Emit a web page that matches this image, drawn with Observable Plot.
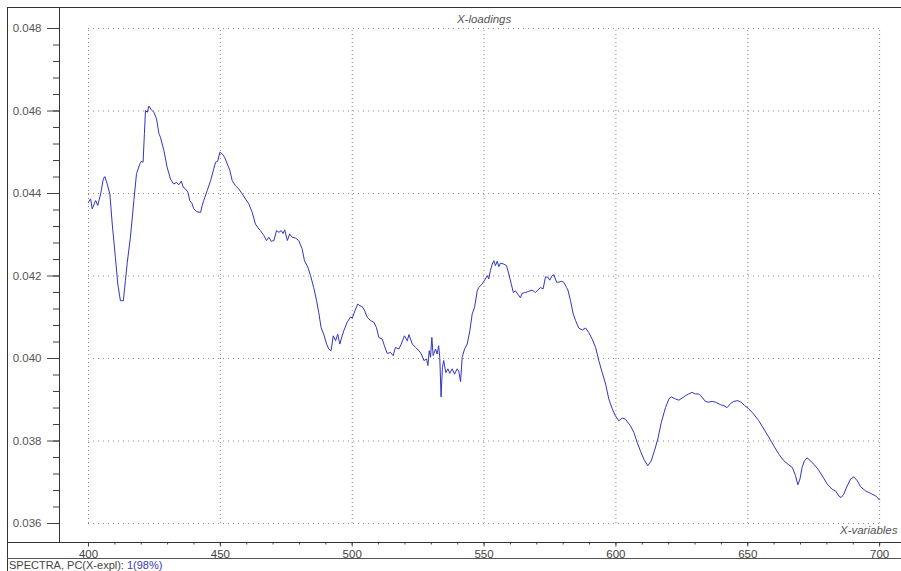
<!DOCTYPE html>
<html>
<head>
<meta charset="utf-8">
<script src="https://cdn.jsdelivr.net/npm/d3@7"></script>
<script src="https://cdn.jsdelivr.net/npm/@observablehq/plot@0.6"></script>
<style>
  html, body { margin: 0; padding: 0; background: #fff; }
  #wrap { position: relative; width: 901px; height: 571px; overflow: hidden; font-family: "Liberation Sans", Arial, sans-serif; }
  #wrap svg { position: absolute; left: 0; top: 0; }
  .ln { position: absolute; background: #333; }
  #caption { position: absolute; left: 9px; top: 559px; font-size: 11px; color: #444; white-space: nowrap; line-height: 13px; }
  #caption span { color: #3a3ac0; }
</style>
</head>
<body>
<div id="wrap">
  <div class="ln" style="left:7px;top:7px;width:1px;height:564px;"></div>
  <div class="ln" style="left:7px;top:7px;width:894px;height:1px;"></div>
  <div class="ln" style="left:7px;top:542px;width:53px;height:1px;"></div>
  <div class="ln" style="left:7px;top:558px;width:894px;height:1px;background:#555;"></div>
  <div id="caption">SPECTRA, PC(X-expl): <span>1(98%)</span></div>
</div>
<script>
// X variables (wavelength) and PC1 loadings
const wavelengths = [
  400.0,400.8,401.4,402.7,403.5,404.6,405.6,406.2,407.1,408.1,409.0,410.2,411.1,412.1,413.2,414.0,414.7,415.9,417.2,418.2,
  419.5,420.0,420.7,421.2,421.6,422.3,422.9,423.8,424.8,425.8,426.7,427.3,428.6,429.8,431.1,432.3,433.4,434.2,435.2,435.9,
  436.8,437.7,438.4,439.3,439.9,441.0,442.5,443.1,443.7,445.0,446.3,447.5,448.2,449.0,449.8,450.7,451.6,452.6,453.6,454.5,
  455.7,457.0,458.3,459.5,460.8,462.1,463.3,464.6,465.2,466.5,467.5,468.4,469.3,470.3,471.3,472.2,473.1,473.8,474.4,475.4,
  476.3,477.2,478.5,479.7,481.0,481.9,483.2,484.2,485.4,486.5,487.3,488.2,489.2,490.3,491.1,492.0,492.8,493.7,494.5,495.3,
  496.2,496.8,498.1,499.4,500.0,501.3,502.1,502.9,503.8,504.7,505.7,506.9,508.2,509.2,510.1,511.4,512.2,513.3,514.5,515.5,
  516.4,517.7,518.6,519.8,520.9,521.5,522.8,524.0,525.3,526.2,527.2,528.2,528.7,529.2,529.7,530.2,530.7,531.6,532.2,532.8,
  533.2,533.7,534.2,534.7,535.5,536.3,537.0,537.9,538.8,539.8,540.4,541.1,541.7,542.6,543.6,544.6,545.5,546.4,547.4,548.0,
  549.3,550.5,551.2,551.8,552.4,553.1,553.7,554.3,555.0,555.6,556.2,557.5,558.5,559.4,560.3,561.1,561.9,562.8,563.8,564.4,
  565.7,567.0,568.2,569.5,570.4,571.4,572.4,573.3,574.2,574.9,575.8,576.5,577.5,578.3,579.3,580.2,581.3,581.8,582.8,583.8,
  584.7,585.9,587.2,588.5,589.7,591.0,592.3,593.5,594.8,596.1,597.3,598.6,599.8,601.1,602.4,603.6,605.5,606.8,608.1,609.3,
  610.6,612.1,613.4,614.6,615.9,617.2,618.8,620.1,621.0,622.6,623.9,625.1,626.4,627.6,628.9,630.1,631.4,632.7,633.9,635.2,
  636.5,637.8,639.7,640.9,642.2,643.5,644.7,646.2,647.5,648.8,650.4,652.3,654.2,656.1,658.0,659.9,661.8,663.7,665.6,666.9,
  668.1,669.0,669.8,670.6,671.5,672.5,673.8,675.0,676.6,678.2,680.1,682.0,683.3,684.5,685.4,686.4,687.7,689.0,690.2,691.5,
  692.8,694.7,696.6,698.5,700.0
];
const loadings = [
  0.04379,0.04387,0.04363,0.04383,0.04371,0.04399,0.04435,0.04441,0.04423,0.04399,0.04326,0.04245,0.04181,0.04140,0.04140,0.04189,0.04233,0.04294,0.04383,0.04448,
  0.04472,0.04478,0.04476,0.04545,0.04601,0.04597,0.04612,0.04603,0.04597,0.04581,0.04545,0.04536,0.04504,0.04464,0.04435,0.04423,0.04427,0.04421,0.04430,0.04415,
  0.04411,0.04403,0.04383,0.04375,0.04363,0.04356,0.04354,0.04371,0.04383,0.04407,0.04431,0.04460,0.04476,0.04478,0.04500,0.04496,0.04488,0.04472,0.04456,0.04431,
  0.04419,0.04411,0.04399,0.04387,0.04375,0.04354,0.04326,0.04314,0.04310,0.04298,0.04286,0.04294,0.04284,0.04286,0.04310,0.04306,0.04310,0.04303,0.04312,0.04286,
  0.04302,0.04294,0.04292,0.04286,0.04266,0.04237,0.04221,0.04201,0.04172,0.04140,0.04112,0.04075,0.04059,0.04035,0.04023,0.04019,0.04055,0.04043,0.04059,0.04035,
  0.04055,0.04067,0.04088,0.04101,0.04098,0.04120,0.04132,0.04128,0.04126,0.04116,0.04100,0.04092,0.04088,0.04075,0.04051,0.04047,0.04031,0.04012,0.04015,0.04007,
  0.04027,0.04023,0.04035,0.04055,0.04043,0.04058,0.04035,0.04027,0.04019,0.04011,0.03995,0.03999,0.03983,0.04019,0.04003,0.04051,0.04007,0.04023,0.04011,0.04031,
  0.04003,0.03907,0.03978,0.03995,0.03966,0.03975,0.03964,0.03975,0.03962,0.03975,0.03969,0.03944,0.04003,0.04023,0.04035,0.04067,0.04108,0.04124,0.04164,0.04172,
  0.04181,0.04193,0.04201,0.04193,0.04213,0.04229,0.04237,0.04225,0.04236,0.04223,0.04231,0.04229,0.04225,0.04205,0.04181,0.04160,0.04164,0.04156,0.04147,0.04158,
  0.04160,0.04163,0.04166,0.04160,0.04166,0.04172,0.04169,0.04198,0.04197,0.04190,0.04201,0.04203,0.04185,0.04185,0.04187,0.04185,0.04172,0.04166,0.04140,0.04108,
  0.04092,0.04074,0.04069,0.04074,0.04063,0.04047,0.04027,0.03995,0.03966,0.03938,0.03902,0.03878,0.03861,0.03849,0.03856,0.03853,0.03837,0.03821,0.03796,0.03776,
  0.03756,0.03740,0.03752,0.03776,0.03805,0.03845,0.03881,0.03902,0.03907,0.03902,0.03899,0.03904,0.03910,0.03914,0.03918,0.03914,0.03914,0.03906,0.03896,0.03894,
  0.03896,0.03894,0.03888,0.03886,0.03881,0.03891,0.03896,0.03898,0.03894,0.03886,0.03878,0.03865,0.03849,0.03829,0.03809,0.03788,0.03768,0.03752,0.03742,0.03736,
  0.03716,0.03694,0.03708,0.03736,0.03752,0.03759,0.03752,0.03744,0.03732,0.03716,0.03696,0.03683,0.03679,0.03667,0.03663,0.03671,0.03691,0.03708,0.03713,0.03704,
  0.03689,0.03679,0.03673,0.03667,0.03657
];
const xTicks = [400, 450, 500, 550, 600, 650, 700];
const xMinorTicks = d3.range(400, 701, 10);
const yTicks = [0.036, 0.038, 0.040, 0.042, 0.044, 0.046, 0.048];
const yMinorTicks = d3.range(0, 31).map(i => 0.036 + i * 0.0004);
const title = "X-loadings";
const xLabel = "X-variables";

const data = wavelengths.map((w, i) => ({w, v: loadings[i]}));

const xDomain = [389.0, 708.3];
const yDomain = [0.03554, 0.048509];
const gridColor = "#8a8a8a";

const chart = Plot.plot({
  width: 901,
  height: 559,
  marginLeft: 59,
  marginTop: 7,
  marginRight: 0,
  marginBottom: 17,
  style: {background: "transparent", fontFamily: "'Liberation Sans', Arial, sans-serif", fontSize: "11.5px", color: "#444", overflow: "visible"},
  x: {domain: xDomain},
  y: {domain: yDomain},
  marks: [
    Plot.ruleX(xTicks, {y1: yTicks[0], y2: yTicks[yTicks.length - 1], stroke: gridColor, strokeDasharray: "1,3"}),
    Plot.ruleY(yTicks, {x1: xTicks[0], x2: xTicks[xTicks.length - 1], stroke: gridColor, strokeDasharray: "1,4"}),
    Plot.axisY(yMinorTicks, {tickSize: 6, tickFormat: () => "", label: null, stroke: "#444"}),
    Plot.axisY(yTicks, {tickSize: 12, tickPadding: 6, tickFormat: d3.format(".3f"), label: null, stroke: "#444", fill: "#555"}),
    Plot.axisX(xMinorTicks, {tickSize: 2.5, tickFormat: () => "", label: null, stroke: "#444"}),
    Plot.axisX(xTicks, {tickSize: 4.5, tickPadding: 3, tickFormat: d => String(d), label: null, stroke: "#444", fill: "#444"}),
    Plot.ruleY([yDomain[0]], {stroke: "#333"}),
    Plot.ruleX([xDomain[0]], {stroke: "#333"}),
    Plot.line(data, {x: "w", y: "v", stroke: "#3434c4", strokeWidth: 1}),
    Plot.text([title], {x: 550, y: yTicks[yTicks.length - 1], dy: -9, text: d => d, fontStyle: "italic", fill: "#555", fontSize: 11.5}),
    Plot.text([xLabel], {frameAnchor: "bottom-right", dx: -4, dy: -9, text: d => d, textAnchor: "end", fontStyle: "italic", fill: "#555", fontSize: 11.5})
  ]
});
document.getElementById("wrap").appendChild(chart);
</script>
</body>
</html>
